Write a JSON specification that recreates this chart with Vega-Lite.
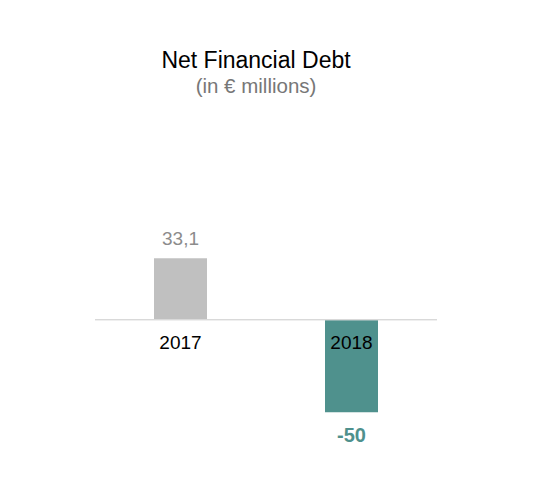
{
  "$schema": "https://vega.github.io/schema/vega-lite/v6.json",
  "width": 342,
  "height": 300,
  "autosize": {"type": "none"},
  "padding": {"left": 95, "top": 140, "right": 113, "bottom": 50},
  "background": "white",
  "view": {"stroke": null},
  "title": {
    "text": "Net Financial Debt",
    "subtitle": "(in € millions)",
    "anchor": "middle",
    "dx": -10,
    "offset": 43,
    "font": "Liberation Sans",
    "fontSize": 23,
    "fontWeight": "normal",
    "color": "#000000",
    "subtitleFont": "Liberation Sans",
    "subtitleFontSize": 20.5,
    "subtitleColor": "#777777",
    "subtitlePadding": 4
  },
  "data": {
    "values": [
      {"year": "2017", "value": 33.1, "label": "33,1"},
      {"year": "2018", "value": -50, "label": "-50"}
    ]
  },
  "layer": [
    {
      "mark": {"type": "bar", "size": 53},
      "encoding": {
        "x": {"field": "year", "type": "nominal", "axis": null, "scale": {"paddingInner": 0, "paddingOuter": 0}},
        "y": {"field": "value", "type": "quantitative", "scale": {"domain": [-65, 97], "nice": false, "zero": false}, "axis": null},
        "color": {"field": "year", "type": "nominal", "scale": {"domain": ["2017", "2018"], "range": ["#c0c0c0", "#4f918d"]}, "legend": null}
      }
    },
    {
      "mark": {"type": "rule", "color": "#d9d9d9", "strokeWidth": 1.2},
      "encoding": {"y": {"datum": 0}}
    },
    {
      "mark": {"type": "text", "font": "Liberation Sans", "fontSize": 19, "color": "#000000", "baseline": "middle", "dy": 23},
      "encoding": {
        "x": {"field": "year", "type": "nominal"},
        "y": {"datum": 0},
        "text": {"field": "year"}
      }
    },
    {
      "transform": [{"filter": "datum.year == '2017'"}],
      "mark": {"type": "text", "font": "Liberation Sans", "fontSize": 19, "color": "#8c8c8c", "baseline": "alphabetic", "dy": -13},
      "encoding": {
        "x": {"field": "year", "type": "nominal"},
        "y": {"field": "value", "type": "quantitative"},
        "text": {"field": "label"}
      }
    },
    {
      "transform": [{"filter": "datum.year == '2018'"}],
      "mark": {"type": "text", "font": "Liberation Sans", "fontSize": 20, "fontWeight": "bold", "color": "#4f918d", "baseline": "alphabetic", "dy": 30},
      "encoding": {
        "x": {"field": "year", "type": "nominal"},
        "y": {"field": "value", "type": "quantitative"},
        "text": {"field": "label"}
      }
    }
  ]
}
